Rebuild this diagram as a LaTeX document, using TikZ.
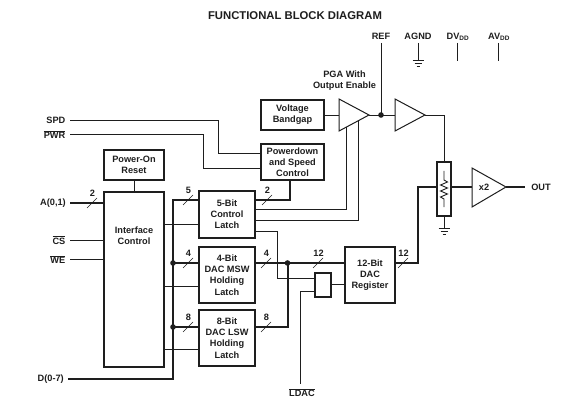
\documentclass[tikz,border=0pt]{standalone}
\usepackage{fontspec}
\setmainfont{Liberation Sans}
\usetikzlibrary{calc}
\newcommand\ovl[1]{$\overline{\hbox{#1}}$}
\definecolor{ink}{HTML}{1E1E1E}
\tikzset{
  x=1pt,y=-1pt,
  every node/.style={font=\fontsize{9.2}{11.2}\selectfont\bfseries,text=ink,align=center,inner sep=0pt},
  blockbox/.style={draw=ink,line width=1.6pt,outer sep=0pt},
  ampl/.style={draw=ink,line width=1pt,line join=miter},
  thinw/.style={draw=ink,line width=0.9pt},
  thickw/.style={draw=ink,line width=2pt,line join=miter},
  slashw/.style={draw=ink,line width=0.7pt},
  dotj/.style={circle,fill=ink,minimum size=5.6pt},
  lab/.style={anchor=center},
}
\newcommand\bus[4]{% name, x, y, label
  \coordinate (#1) at (#2,#3);
  \draw[slashw] ($(#1)+(-5,5)$) -- ($(#1)+(5,-5)$);
  \node[lab] (#1t) at ($(#1)+(0.5,-9.5)$) {#4};
}
\newcommand\gnd[3]{% name, x, y
  \coordinate (#1) at (#2,#3);
  \draw[thinw] ($(#1)+(-5.5,0)$) -- ($(#1)+(5.5,0)$);
  \draw[thinw] ($(#1)+(-3.5,3.5)$) -- ($(#1)+(3.5,3.5)$);
  \draw[thinw] ($(#1)+(-1.5,6.5)$) -- ($(#1)+(1.5,6.5)$);
}
\begin{document}
\begin{tikzpicture}
\useasboundingbox (0,0) rectangle (574,404);
\fill[white] (0,0) rectangle (574,404);
\node (title) at (295,15.5) {\fontsize{11.3}{13}\selectfont FUNCTIONAL BLOCK DIAGRAM};

% blocks
\node[blockbox,minimum width=63pt,minimum height=30pt] (vb) at (292.5,115) {Voltage\\Bandgap};
\node[blockbox,minimum width=63pt,minimum height=36pt] (pd) at (292.5,162) {Powerdown\\and Speed\\Control};
\node[blockbox,minimum width=60pt,minimum height=30pt] (por) at (134,165) {Power-On\\Reset};
\node[blockbox,minimum width=60pt,minimum height=175pt] (ifc) at (134,279.5) {};
\node (ifct) at (134,236) {Interface\\Control};
\node[blockbox,minimum width=56pt,minimum height=47pt] (l5) at (227,214.5) {5-Bit\\Control\\Latch};
\node[blockbox,minimum width=56pt,minimum height=56pt] (l4) at (227,275) {4-Bit\\DAC MSW\\Holding\\Latch};
\node[blockbox,minimum width=56pt,minimum height=56pt] (l8) at (227,338) {8-Bit\\DAC LSW\\Holding\\Latch};
\node[blockbox,minimum width=50pt,minimum height=56pt] (dr) at (370,275) {12-Bit\\DAC\\Register};
\node[blockbox,minimum width=16pt,minimum height=24pt] (gate) at (323,285) {};
\node[blockbox,minimum width=14pt,minimum height=54pt] (rb) at (444,189) {};

% amplifiers
\coordinate (a1tl) at (339,99); \coordinate (a1bl) at (339,131); \coordinate (a1o) at (369,115);
\coordinate (a2tl) at (395,99); \coordinate (a2bl) at (395,131); \coordinate (a2o) at (425,115);
\coordinate (a3tl) at (472,168); \coordinate (a3bl) at (472,207); \coordinate (a3o) at (506,187);
\draw[ampl] (a1tl) -- (a1o) -- (a1bl) -- cycle;
\draw[ampl] (a2tl) -- (a2o) -- (a2bl) -- cycle;
\draw[ampl] (a3tl) -- (a3o) -- (a3bl) -- cycle;
\node (x2) at (484,187) {x2};
\node (pga) at (344.5,81) {PGA With\\Output Enable};

% top pins
\node (ref) at (381,36) {REF};
\node (agnd) at (418,36) {AGND};
\node (dv) at (458,37) {DV\textsubscript{DD}};
\node (av) at (499,37) {AV\textsubscript{DD}};
\coordinate (refj) at (381,115);
\coordinate (agb) at (418,60);
\draw[thinw] (381,43) -- (refj);
\draw[thinw] (418,43) -- (agb);
\gnd{g1}{418}{60}
\draw[thinw] (457,43) -- (457,61);
\draw[thinw] (498,43) -- (498,61);
\draw[thinw] (vb.east) -- (339,115);
\draw[thinw] (a1o) -- (a2tl |- a1o);
\node[dotj] (jref) at (refj) {};
\draw[thinw] (a2o) -| (rb.north);
\draw[thinw] (rb.south) -- (444,228);
\gnd{g2}{444}{228}
% resistor
\draw[thinw,line join=miter] (444,171) -- (444,180) -- (447.5,182) -- (440.5,185) -- (447.5,188) -- (440.5,191) -- (447.5,194) -- (440.5,197) -- (444,199) -- (444,207);
\draw[thickw] (rb.east |- 0,187) -- (a3tl |- 0,187);
\draw[thickw] (a3o) -- (525,187);
\node (out) at (541,187.5) {OUT};

% left pins
\node[anchor=east] (spd) at (65.5,120) {SPD};
\node[anchor=east] (pwr) at (65.5,134.5) {\ovl{PWR}};
\node[anchor=east] (a01) at (66,203) {A(0,1)};
\node[anchor=east] (cs) at (65.5,240) {\ovl{CS}};
\node[anchor=east] (we) at (65.5,259.5) {\ovl{WE}};
\node[anchor=east] (d07) at (64,379) {D(0-7)};
\coordinate (pdA) at (pd.west |- 0,153);
\coordinate (pdB) at (pd.west |- 0,168);
\draw[thinw] (70,120) -- (218.5,120) |- (pdA);
\draw[thinw] (70,134) -- (203.5,134) |- (pdB);
\draw[thickw] (70,203) -- (ifc.west |- 0,203);
\draw[thinw] (70,240) -- (ifc.west |- 0,240);
\draw[thinw] (70,259) -- (ifc.west |- 0,259);
\draw[thinw] (por.south) -- (ifc.north);
\bus{bA}{92}{203}{2}

% interface to latches
\draw[thinw] (ifc.east |- 0,224) -- (l5.west |- 0,224);
\draw[thinw] (ifc.east |- 0,286) -- (l4.west |- 0,286);
\draw[thinw] (ifc.east |- 0,349) -- (l8.west |- 0,349);

% data bus
\draw[thickw] (68,379) -- (173,379) -- (173,200) -- (l5.west |- 0,200);
\draw[thickw] (173,263) -- (l4.west |- 0,263);
\draw[thickw] (173,327) -- (l8.west |- 0,327);
\node[dotj] (j1) at (173,263) {};
\node[dotj] (j2) at (173,327) {};
\bus{b5}{188}{200}{5}
\bus{b4}{188}{263}{4}
\bus{b8}{188}{327}{8}

% 5-bit outputs
\draw[thickw] (l5.east |- 0,200) -| (290,180);
\bus{b2}{267}{200}{2}
\draw[thinw] (l5.east |- 0,209) -- (346,209) -- (346,127);
\draw[thinw] (l5.east |- 0,220) -- (358,220) -- (358,121);
\draw[thinw] (l5.east |- 0,231) -- (277,231) -- (277,278.5) -- (gate.west |- 0,278.5);

% data latches to register
\draw[thickw] (l4.east |- 0,263) -- (dr.west |- 0,263);
\draw[thickw] (l8.east |- 0,327) -- (288,327) -- (288,263);
\node[dotj] (j3) at (287.5,263) {};
\bus{b4o}{266}{263}{4}
\bus{b8o}{266}{327}{8}
\bus{b12}{318}{263}{12}

% gate
\draw[thinw] (gate.east |- 0,284) -- (dr.west |- 0,284);
\draw[thinw] (gate.west |- 0,291) -- (300.5,291) -- (300.5,384);
\node (ldac) at (302,392.5) {\ovl{LDAC}};

% register to resistor
\draw[thickw] (dr.east |- 0,263) -- (418,263) -- (418,187) -- (rb.west |- 0,187);
\bus{b12o}{403}{263}{12}
\end{tikzpicture}
\end{document}
